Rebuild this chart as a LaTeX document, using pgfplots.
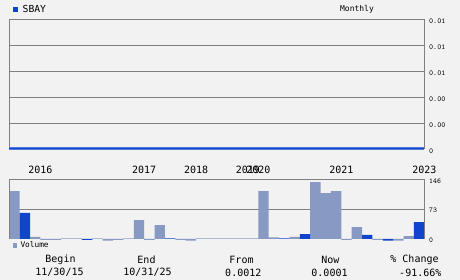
\documentclass[border=0pt]{standalone}
\usepackage{pgfplots}
\pgfplotsset{compat=1.18}
\usepackage{fontspec}
\setmainfont{DejaVu Sans Mono}
\definecolor{bg}{RGB}{242,242,242}
\definecolor{gridc}{RGB}{128,128,128}
\definecolor{vlight}{RGB}{136,153,196}
\definecolor{vdark}{RGB}{17,68,204}
\definecolor{pline}{RGB}{24,74,204}
\definecolor{pedge}{RGB}{80,120,220}
\newcommand{\fs}[1]{\fontsize{#1bp}{#1bp}\selectfont}
\begin{document}
\begin{tikzpicture}
\fill[bg] (0,0) rectangle (460bp,280bp);
\useasboundingbox (0,0) rectangle (460bp,280bp);
% ---------- price panel ----------
\begin{axis}[
  at={(9.3bp,130.7bp)}, anchor=south west,
  scale only axis, width=415bp, height=130bp,
  xmin=0, xmax=40, ymin=0, ymax=0.01,
  scaled y ticks=false,
  axis line style={draw=none},
  xtick=\empty,
  ytick={0,0.002,0.004,0.006,0.008,0.01},
  yticklabels={\texttt{0},\texttt{0.00},\texttt{0.00},\texttt{0.01},\texttt{0.01},\texttt{0.01}},
  yticklabel pos=right,
  major tick length=0pt,
  ymajorgrids, grid style={gridc, line width=0.8bp},
  yticklabel style={font=\fs{7.6}, anchor=west, inner sep=0pt, xshift=4.7bp, yshift=-2bp},
  clip=false,
]
\draw[gridc, line width=0.8bp] (rel axis cs:0,0) -- (rel axis cs:0,1) -- (rel axis cs:1,1) -- (rel axis cs:1,0);
\addplot[pedge, line width=3.2bp] coordinates {(0,0.00006) (10,0.00006) (20,0.00006) (30,0.00006) (40,0.00006)};
\addplot[pline, line width=1.8bp] coordinates {(0,0.00006) (10,0.00006) (20,0.00006) (30,0.00006) (40,0.00006)};
\end{axis}
% ---------- volume panel ----------
\begin{axis}[
  at={(9.3bp,36.91bp)}, anchor=south west,
  scale only axis, width=415bp, height=63.79bp,
  xmin=0, xmax=40, ymin=-10, ymax=146,
  axis line style={draw=none},
  xtick={3,13,18,23,24,32,40},
  xticklabels={2016,2017,2018,2019,2020,2021,2023},
  xticklabel pos=upper,
  xticklabel style={font=\fs{10}, anchor=center, inner sep=0pt, yshift=9.3bp},
  ytick={0,73,146},
  yticklabels={\texttt{0},\texttt{73},\texttt{146}},
  yticklabel pos=right,
  major tick length=0pt,
  yticklabel style={font=\fs{7.4}, anchor=west, inner sep=0pt, xshift=4.7bp, yshift=-1.5bp},
  clip=false,
]
\draw[gridc, line width=0.8bp] (axis cs:0,73) -- (axis cs:40,73);
\addplot[ybar, bar shift=0pt, bar width=10.375bp, fill=vlight, draw=none] coordinates {
(0.5,117) (2.5,5) (3.5,-2) (4.5,-2) (5.5,1.5) (6.5,1.5) (8.5,1.5) (9.5,-4) (10.5,-2) (11.5,1.5)
(12.5,46) (13.5,-2) (14.5,34) (16.5,-2) (17.5,-4) (18.5,1.5) (19.5,1.5) (20.5,1.5) (21.5,1.5)
(22.5,1.5) (23.5,1.5) (24.5,117) (25.5,4) (27.5,5) (29.5,139) (30.5,112) (31.5,117) (32.5,-2)
(33.5,29) (35.5,-2) (37.5,-4) (38.5,7)};
\addplot[ybar, bar shift=0pt, bar width=10.375bp, fill=vdark, draw=none] coordinates {
(1.5,64) (7.5,-2) (15.5,1.5) (26.5,1.5) (28.5,12) (34.5,10) (36.5,-4) (39.5,41)};
\draw[gridc, line width=0.8bp] (axis cs:0,0) -- (axis cs:0,146) -- (axis cs:40,146) -- (axis cs:40,0);
\end{axis}
% ---------- legends and footer ----------
\fill[vdark] (13bp,268.3bp) rectangle (18bp,273.3bp);
\node[anchor=west, inner sep=0pt, font=\fs{9.7}] at (22.5bp,271bp) {SBAY};
\node[inner sep=0pt, font=\fs{8}] at (357bp,271bp) {Monthly};
\fill[vlight] (13.3bp,32.3bp) rectangle (17.3bp,36.7bp);
\node[anchor=west, inner sep=0pt, font=\fs{7.8}] at (20.3bp,35bp) {Volume};
\begin{scope}[every node/.style={inner sep=0pt, font=\fs{10}}]
\node at (60.5bp,20.5bp) {Begin};
\node at (59.5bp,7.5bp) {11/30/15};
\node at (146.5bp,20.5bp) {End};
\node at (147.5bp,7.5bp) {10/31/25};
\node at (241.5bp,20.5bp) {From};
\node at (243.3bp,7.5bp) {0.0012};
\node at (330.3bp,20.5bp) {Now};
\node at (329.5bp,7.5bp) {0.0001};
\node at (414.5bp,20.5bp) {\% Change};
\node at (420.3bp,7.5bp) {-91.66\%};
\end{scope}
\end{tikzpicture}
\end{document}
